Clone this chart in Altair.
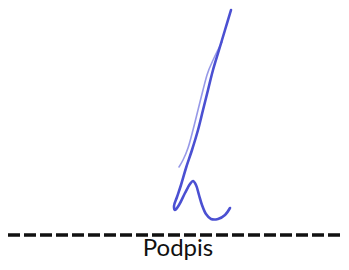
import altair as alt
import pandas as pd

# Signature strokes (pixel-space coordinates)
main_x = [231, 225, 219, 213, 208, 203, 198, 192, 186, 181, 177, 174, 175, 179, 185, 190, 193, 196, 199, 202, 206, 211, 218, 225, 230]
main_y = [10, 30, 50, 70, 90, 110, 130, 150, 168, 185, 197, 206, 210, 205, 193, 184, 181, 185, 195, 205, 214, 219, 219, 215, 208]
thin_x = [222, 214, 207, 203, 198, 193, 188, 183, 179]
thin_y = [42, 58, 75, 90, 110, 130, 148, 160, 167]

# Signature line
line_x_start = [8]
line_x_end = [341]
line_y = [235]

label_text = ["Podpis"]
label_x = [178]
label_y = [256]

main_df = pd.DataFrame({"x": main_x, "y": main_y, "i": list(range(len(main_x)))})
thin_df = pd.DataFrame({"x": thin_x, "y": thin_y, "i": list(range(len(thin_x)))})
rule_df = pd.DataFrame({"x": line_x_start, "x2": line_x_end, "y": line_y})
text_df = pd.DataFrame({"t": label_text, "x": label_x, "y": label_y})

# plot area occupies page pixels 8..341 (x) and 8..262 (y)
xs = alt.Scale(domain=[8, 341], nice=False, zero=False)
ys = alt.Scale(domain=[8, 262], nice=False, zero=False, reverse=True)

X = lambda f: alt.X(f, type="quantitative", scale=xs, axis=None)
Y = lambda f: alt.Y(f, type="quantitative", scale=ys, axis=None)

thin = alt.Chart(thin_df).mark_line(color="#8c8ee6", strokeWidth=1.6, strokeCap="round", interpolate="monotone", opacity=0.9).encode(
    x=X("x"), y=Y("y"), order="i:Q")
main = alt.Chart(main_df).mark_line(color="#4b50d2", strokeWidth=2.6, strokeCap="round", strokeJoin="round", interpolate="catmull-rom").encode(
    x=X("x"), y=Y("y"), order="i:Q")
rule = alt.Chart(rule_df).mark_rule(color="#111111", strokeWidth=3.5, strokeDash=[12, 4]).encode(
    x=X("x"), x2="x2", y=Y("y"))
text = alt.Chart(text_df).mark_text(font="Lato", fontSize=24, color="#111111", align="center", baseline="alphabetic").encode(
    x=X("x"), y=Y("y"), text="t:N")

chart = alt.layer(thin, main, rule, text).properties(
    width=333, height=254, padding=0, autosize=alt.AutoSizeParams(type="none"),
    background="white"
).configure_view(stroke=None, strokeWidth=0)

chart.save("out.html", embed_options={"renderer": "svg", "actions": False})
